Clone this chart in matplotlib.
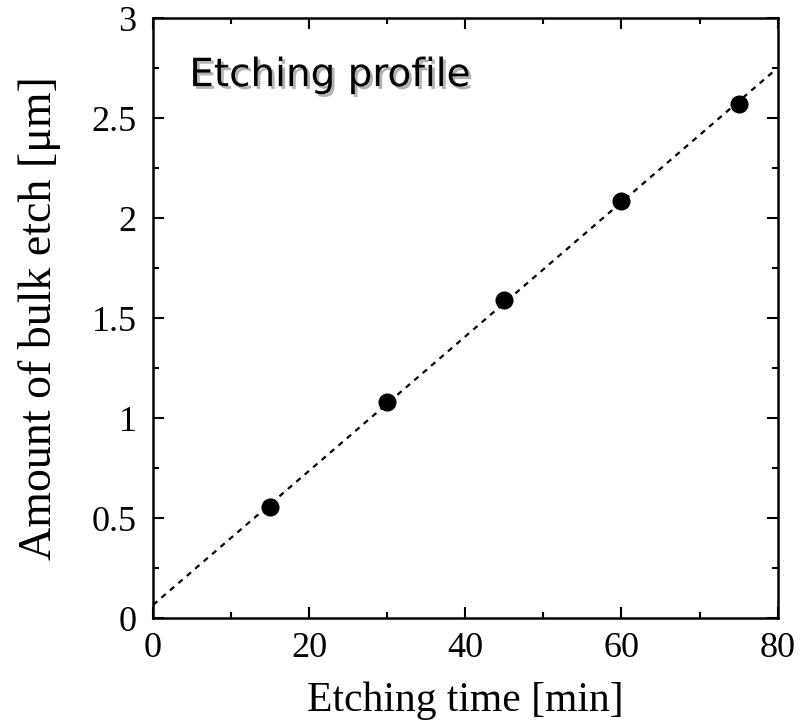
import numpy as np
import matplotlib
matplotlib.use("Agg")
import matplotlib.pyplot as plt
import matplotlib.patheffects as pe
from matplotlib.ticker import MultipleLocator

# data
etch_time = [15, 30, 45, 60, 75]          # min
bulk_etch = [0.555, 1.08, 1.59, 2.085, 2.57]  # um
bulk_err = [0.02, 0.02, 0.02, 0.02, 0.02]

plt.rcParams['font.family'] = ['Liberation Serif', 'DejaVu Serif']

fig = plt.figure(figsize=(8.1, 7.24), dpi=100)
ax = fig.add_axes([0.189, 0.1464, 0.771, 0.8286])

# linear fit through the points
slope, icpt = np.polyfit(etch_time, bulk_etch, 1)
xf = np.array([0, 80])
ax.plot(xf, icpt + slope * xf, ls=(0, (2.5, 2.5)), color='black', lw=1.6)

ax.errorbar(etch_time, bulk_etch, yerr=bulk_err, fmt='o', color='black',
            ms=12, capsize=4, elinewidth=1, zorder=3)

ax.set_xlim(0, 80)
ax.set_ylim(0, 3)
ax.xaxis.set_major_locator(MultipleLocator(20))
ax.xaxis.set_minor_locator(MultipleLocator(10))
ax.yaxis.set_major_locator(MultipleLocator(0.5))
ax.yaxis.set_minor_locator(MultipleLocator(0.25))
ax.yaxis.set_major_formatter(matplotlib.ticker.FuncFormatter(lambda v, p: f"{v:g}"))
ax.tick_params(which='both', direction='in', top=True, right=True, width=1.5)
ax.tick_params(which='major', length=8, labelsize=26)
ax.tick_params(axis='x', which='major', pad=10)
ax.tick_params(axis='y', which='major', pad=12)
ax.tick_params(which='minor', length=4)
for s in ax.spines.values():
    s.set_linewidth(1.8)

ax.set_xlabel('Etching time [min]', fontsize=30, labelpad=12)
ax.set_ylabel('Amount of bulk etch [μm]', fontsize=33, labelpad=22)

ax.text(0.058, 0.905, 'Etching profile', transform=ax.transAxes,
        family=['DejaVu Sans'], fontsize=28, va='center', ha='left',
        path_effects=[pe.withSimplePatchShadow(offset=(2, -2), shadow_rgbFace='gray', alpha=0.6)])

fig.savefig('out.png', dpi=100)
